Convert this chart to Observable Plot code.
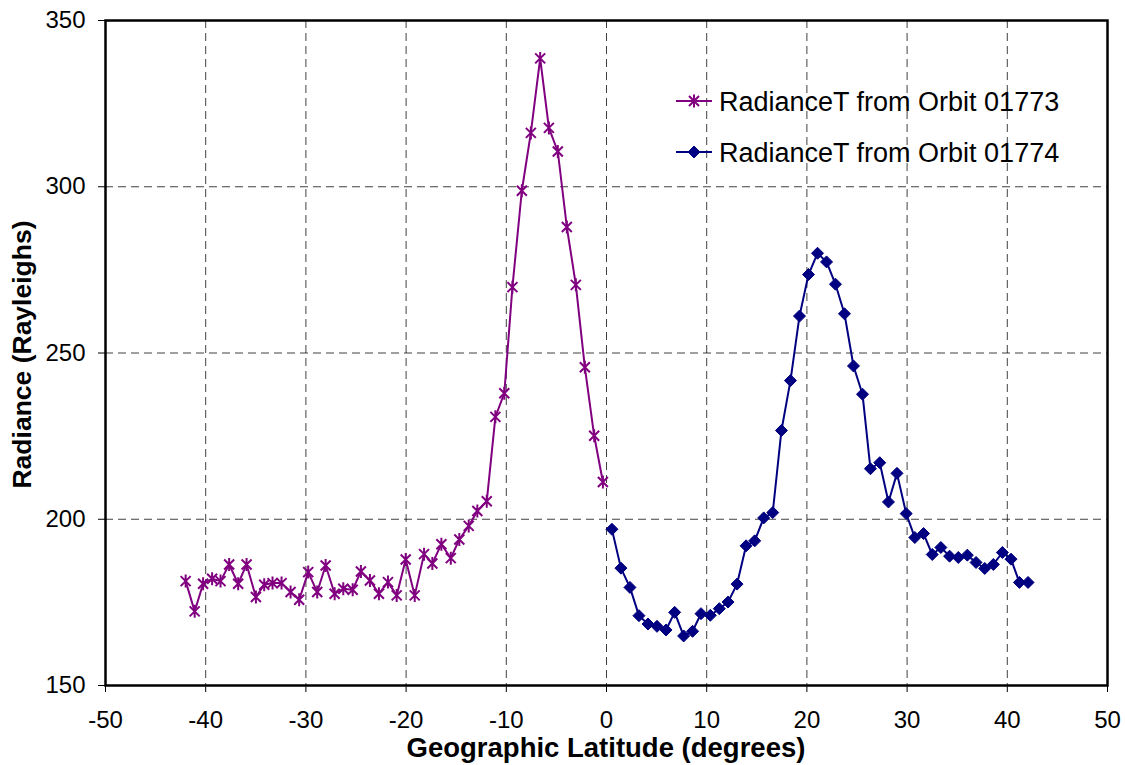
<!DOCTYPE html>
<html>
<head>
<meta charset="utf-8">
<script src="https://cdn.jsdelivr.net/npm/d3@7"></script>
<script src="https://cdn.jsdelivr.net/npm/@observablehq/plot@0.6"></script>
<style>
  html, body { margin: 0; padding: 0; background: #fff; }
  #chart svg { display: block; }
</style>
</head>
<body>
<div id="chart"></div>
<script>
// Orbit 01773 (purple, stars)
const lat1773 = [-42.0, -41.1, -40.26, -39.36, -38.52, -37.66, -36.76, -35.92, -34.99, -34.16, -33.33, -32.43, -31.53, -30.67, -29.77, -28.87, -28.03, -27.13, -26.27, -25.33, -24.51, -23.61, -22.71, -21.81, -20.94, -20.04, -19.14, -18.21, -17.38, -16.48, -15.54, -14.69, -13.75, -12.89, -11.95, -11.09, -10.2, -9.39, -8.45, -7.55, -6.62, -5.75, -4.86, -3.96, -3.06, -2.16, -1.23, -0.36];
const rad1773 = [181.4, 172.3, 180.6, 182.1, 181.4, 186.4, 180.6, 186.4, 176.6, 180.3, 180.8, 180.8, 178.1, 175.8, 184.1, 178.1, 186.1, 177.6, 179.1, 178.8, 184.3, 181.6, 177.6, 181.1, 177.1, 187.9, 177.1, 189.5, 186.7, 192.5, 188.3, 193.9, 198.0, 202.5, 205.4, 230.8, 237.9, 269.8, 298.8, 316.2, 338.6, 317.7, 310.6, 287.9, 270.5, 245.7, 225.1, 211.2];
// Orbit 01774 (navy, diamonds)
const lat1774 = [0.54, 1.44, 2.34, 3.24, 4.14, 5.04, 5.94, 6.80, 7.70, 8.59, 9.43, 10.36, 11.26, 12.13, 13.03, 13.93, 14.79, 15.69, 16.59, 17.46, 18.36, 19.26, 20.16, 21.06, 21.96, 22.85, 23.75, 24.65, 25.55, 26.34, 27.27, 28.14, 28.99, 29.91, 30.77, 31.64, 32.51, 33.37, 34.24, 35.11, 36.01, 36.88, 37.75, 38.61, 39.51, 40.37, 41.21, 42.07];
const rad1774 = [197.0, 185.3, 179.5, 171.0, 168.5, 167.8, 166.7, 172.0, 164.9, 166.3, 171.6, 171.1, 173.1, 175.1, 180.5, 192.0, 193.5, 200.4, 202.0, 226.7, 241.7, 261.1, 273.6, 280.0, 277.4, 270.7, 261.8, 246.1, 237.6, 215.2, 217.0, 205.2, 213.8, 201.7, 194.5, 195.7, 189.4, 191.5, 188.9, 188.5, 189.2, 187.0, 185.2, 186.4, 190.0, 188.0, 181.0, 181.0];

const xTicks = [-50, -40, -30, -20, -10, 0, 10, 20, 30, 40, 50];
const yTicks = [150, 200, 250, 300, 350];
const seriesNames = ["RadianceT from Orbit 01773", "RadianceT from Orbit 01774"];
const xTitle = "Geographic Latitude (degrees)";
const yTitle = "Radiance (Rayleighs)";

const c1 = "#800080", c2 = "#000080";

const d1 = lat1773.map((x, i) => ({x, y: rad1773[i]}));
const d2 = lat1774.map((x, i) => ({x, y: rad1774[i]}));

const starSym = {draw(ctx) {
  const s = 5, v = 6.5;
  ctx.moveTo(-s, -s); ctx.lineTo(s, s);
  ctx.moveTo(-s, s); ctx.lineTo(s, -s);
  ctx.moveTo(0, -v); ctx.lineTo(0, v);
}};
const diamondSym = {draw(ctx) {
  const s = 6;
  ctx.moveTo(0, -s); ctx.lineTo(s, 0); ctx.lineTo(0, s); ctx.lineTo(-s, 0); ctx.closePath();
}};

const W = 1125, H = 765, mL = 105, mR = 18, mT = 20, mB = 80;
const font = "'Liberation Sans', Arial, sans-serif";
const fmt = d => String(d);

const chart = Plot.plot({
  width: W, height: H,
  marginLeft: mL, marginRight: mR, marginTop: mT, marginBottom: mB,
  style: {fontFamily: font, fontSize: "24px", color: "#000", background: "#fff"},
  x: {domain: [-50, 50], ticks: xTicks, label: null, tickSize: 7, tickPadding: 18},
  y: {domain: [150, 350], ticks: yTicks, label: null, tickSize: 7, tickPadding: 13},
  marks: [
    Plot.gridX(xTicks, {stroke: "#000", strokeOpacity: 0.75, strokeWidth: 1, strokeDasharray: "8,5"}),
    Plot.gridY(yTicks, {stroke: "#000", strokeOpacity: 0.75, strokeWidth: 1, strokeDasharray: "8,5"}),
    Plot.axisX({ticks: xTicks, tickFormat: fmt, tickSize: 7, tickPadding: 18, label: null, fontSize: 24}),
    Plot.axisY({ticks: yTicks, tickFormat: fmt, tickSize: 7, tickPadding: 13, label: null, fontSize: 24}),
    Plot.line(d1, {x: "x", y: "y", stroke: c1, strokeWidth: 2}),
    Plot.line(d2, {x: "x", y: "y", stroke: c2, strokeWidth: 2}),
    Plot.dot(d1, {x: "x", y: "y", symbol: starSym, fill: "none", stroke: c1, strokeWidth: 2}),
    Plot.dot(d2, {x: "x", y: "y", symbol: diamondSym, fill: c2, stroke: c2, strokeWidth: 1}),
    Plot.frame({stroke: "#000", strokeWidth: 2.5})
  ]
});

document.getElementById("chart").appendChild(chart);

// Titles and legend
const svg = d3.select(chart);
svg.append("text")
  .attr("x", 606).attr("y", 757)
  .attr("text-anchor", "middle")
  .attr("font-family", font).attr("font-weight", "bold").attr("font-size", 27.5)
  .attr("fill", "#000")
  .text(xTitle);
svg.append("text")
  .attr("transform", `translate(31, ${(mT + H - mB) / 2 + 2}) rotate(-90)`)
  .attr("text-anchor", "middle")
  .attr("font-family", font).attr("font-weight", "bold").attr("font-size", 26.5)
  .attr("fill", "#000")
  .text(yTitle);

const leg = svg.append("g");
const rows = [{name: seriesNames[0], color: c1, sym: starSym, fill: "none", y: 101},
              {name: seriesNames[1], color: c2, sym: diamondSym, fill: c2, y: 152}];
rows.forEach(r => {
  leg.append("line").attr("x1", 676).attr("x2", 712).attr("y1", r.y).attr("y2", r.y)
    .attr("stroke", r.color).attr("stroke-width", 2);
  leg.append("path").attr("d", d3.symbol(r.sym)()).attr("transform", `translate(694,${r.y})`)
    .attr("fill", r.fill).attr("stroke", r.color).attr("stroke-width", r.fill === "none" ? 2 : 1);
  leg.append("text").attr("x", 719).attr("y", r.y).attr("dy", "0.36em")
    .attr("text-anchor", "start")
    .attr("font-family", font).attr("font-size", 27).attr("fill", "#000")
    .text(r.name);
});
</script>
</body>
</html>
